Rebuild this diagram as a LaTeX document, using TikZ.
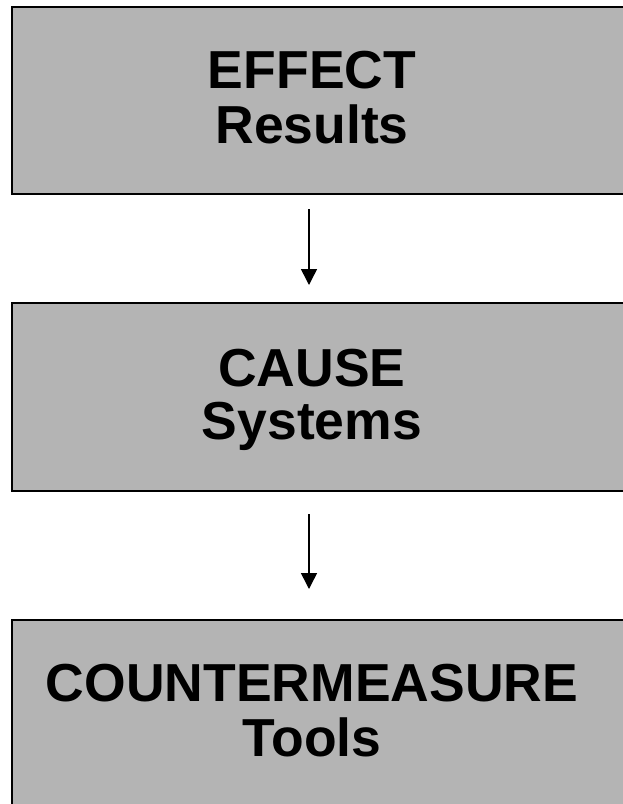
\documentclass[tikz,border=0pt]{standalone}
\usepackage{fontspec}
\setmainfont{Liberation Sans}
\usetikzlibrary{arrows.meta}
\definecolor{boxgray}{HTML}{B4B4B4}
\newcommand{\twolines}[2]{\hspace*{-29pt}\begin{tabular}[b]{@{}c@{}}#1\\#2\end{tabular}}
\tikzset{
  box/.style={draw=black, line width=2pt, fill=boxgray, anchor=north west,
    minimum width=629pt, text depth=6pt,
    font=\fontsize{53.5}{53}\selectfont\bfseries},
  link/.style={-{Triangle[length=16pt,width=16pt]}, line width=1.5pt}
}
\begin{document}
\begin{tikzpicture}[x=1pt,y=-1pt]
      \useasboundingbox (0,0) rectangle (622,804);
      \draw
        (11,6) node[box, minimum height=187pt] (effect){\twolines{EFFECT}{Results}}
        (11,302) node[box, minimum height=188pt] (cause){\twolines{CAUSE}{Systems}}
        (11,619) node[box, minimum height=187pt] (counter){\twolines{COUNTERMEASURE}{Tools}};
      \begin{scope}[link]
        \draw[shorten <=14pt, shorten >=17pt] ([xshift=-17.5pt]effect.south) to ([xshift=-17.5pt]cause.north);
        \draw[shorten <=22pt, shorten >=30pt] ([xshift=-17.5pt]cause.south) to ([xshift=-17.5pt]counter.north);
      \end{scope}
    \end{tikzpicture}
\end{document}
